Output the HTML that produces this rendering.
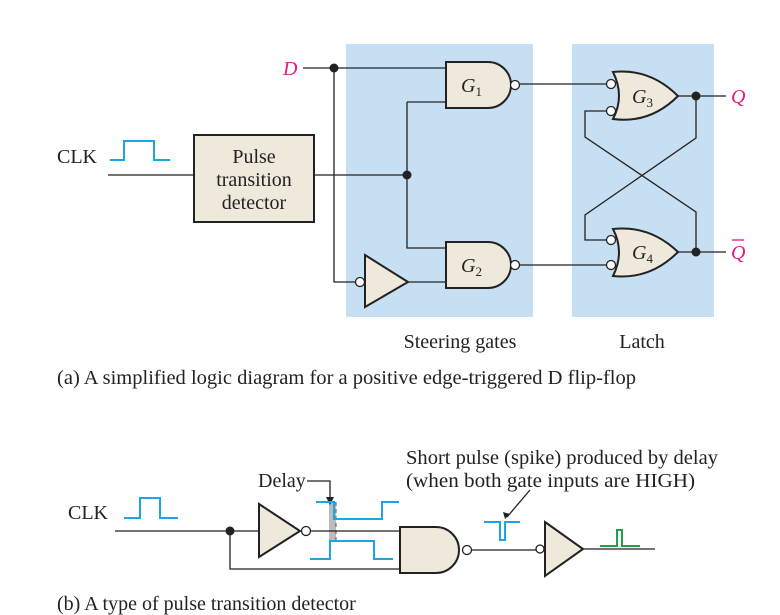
<!DOCTYPE html>
<html><head><style>body{margin:0;background:#fff}svg{display:block}</style></head><body>
<svg width="780" height="615" viewBox="0 0 780 615" font-family="Liberation Serif, serif">
<rect x="346" y="44" width="187" height="273" fill="#c7dff2"/>
<rect x="572" y="44" width="142" height="273" fill="#c7dff2"/>
<g stroke="#222" stroke-width="1.3" fill="none">
<path d="M303 68H446M334 68V282H355M408 282H446M407 102H446M407 102V248H446M315 175H407"/>
<path d="M520 84H607M520 265H607M678 96H726M678 252H726"/>
<path d="M607 111H585V137L696 212V252M696 96V138L585 215V240H607"/>
<path d="M108 175H194"/>
</g>
<g stroke="#222" stroke-width="2" fill="#efe9dc">
<rect x="194" y="135" width="120" height="87"/>
<path d="M446 62H488A23 23 0 0 1 488 108H446Z"/>
<path d="M446 242H488A23 23 0 0 1 488 288H446Z"/>
<path d="M365 255L408 282L365 307Z"/>
<path d="M613 72Q650 68 678 96Q650 124 613 119Q625 96 613 72Z"/>
<path d="M613 229Q650 225 678 252Q650 280 613 276Q625 252 613 229Z"/>
</g>
<g stroke="#222" stroke-width="1.3" fill="#fff">
<circle cx="515" cy="85" r="4.5"/><circle cx="515" cy="265" r="4.5"/><circle cx="360" cy="282" r="4.5"/>
<circle cx="611" cy="84" r="4.5"/><circle cx="611" cy="111" r="4.5"/><circle cx="611" cy="240" r="4.5"/><circle cx="611" cy="265" r="4.5"/>
</g>
<g fill="#222"><circle cx="334" cy="68" r="4.5"/><circle cx="407" cy="175" r="4.5"/><circle cx="696" cy="96" r="4.5"/><circle cx="696" cy="252" r="4.5"/></g>
<path d="M110 160H124V141H154V160H170" stroke="#1aa6e6" stroke-width="2" fill="none"/>
<g font-size="20" fill="#222">
<text x="57" y="163">CLK</text>
<text x="254" y="163" text-anchor="middle">Pulse</text>
<text x="254" y="186" text-anchor="middle">transition</text>
<text x="254" y="209" text-anchor="middle">detector</text>
<text x="460" y="348" text-anchor="middle">Steering gates</text>
<text x="642" y="348" text-anchor="middle">Latch</text>
<text x="57" y="384" textLength="579" lengthAdjust="spacingAndGlyphs">(a) A simplified logic diagram for a positive edge-triggered D flip-flop</text>
<text x="57" y="610">(b) A type of pulse transition detector</text>
<text x="68" y="519">CLK</text>
<text x="258" y="487">Delay</text>
<text x="406" y="464" textLength="312" lengthAdjust="spacingAndGlyphs">Short pulse (spike) produced by delay</text>
<text x="406" y="487" textLength="289" lengthAdjust="spacingAndGlyphs">(when both gate inputs are HIGH)</text>
</g>
<g font-style="italic" font-size="20" fill="#e6197f">
<text x="283" y="75">D</text><text x="731" y="103">Q</text><text x="731" y="259">Q</text>
</g>
<path d="M732 240H744" stroke="#e6197f" stroke-width="1.3"/>
<g font-style="italic" font-size="20" fill="#222">
<text x="461" y="92">G<tspan font-size="13" dy="4" font-style="normal">1</tspan></text>
<text x="461" y="272">G<tspan font-size="13" dy="4" font-style="normal">2</tspan></text>
<text x="632" y="103">G<tspan font-size="13" dy="4" font-style="normal">3</tspan></text>
<text x="632" y="259">G<tspan font-size="13" dy="4" font-style="normal">4</tspan></text>
</g>
<!-- part b -->
<rect x="329" y="502" width="7" height="38" fill="#bbb"/>
<path d="M336 502V540" stroke="#555" stroke-dasharray="4 3"/>
<g stroke="#222" stroke-width="1.3" fill="none">
<path d="M115 531H259M230 531V569H400M311 531H400M472 550H536M583 549H655"/>
<path d="M307 481H330V500"/>
<path d="M530 490L507 517"/>
</g>
<path d="M326 497L330 505L334 497Z M503 512L505 519L510 514Z" fill="#222"/>
<g stroke="#222" stroke-width="2" fill="#efe9dc">
<path d="M259 504L300 531L259 557Z"/>
<path d="M400 527H436A23 23 0 0 1 436 573H400Z"/>
<path d="M545 522L583 549L545 576Z"/>
</g>
<g stroke="#222" stroke-width="1.3" fill="#fff"><circle cx="306" cy="531" r="4.5"/><circle cx="467" cy="550" r="4.5"/><circle cx="540" cy="549" r="4"/></g>
<circle cx="230" cy="531" r="4.5" fill="#222"/>
<g stroke="#1aa6e6" stroke-width="2" fill="none">
<path d="M124 518H140V498H160V518H178"/>
<path d="M316 502H334V519H382V502H399"/>
<path d="M310 559H330V541H374V559H393"/>
<path d="M484 522H500V540H505V522H520"/>
</g>
<path d="M600 546H617V530H622V546H640" stroke="#1fa34a" stroke-width="2" fill="none"/>
</svg>
</body></html>
